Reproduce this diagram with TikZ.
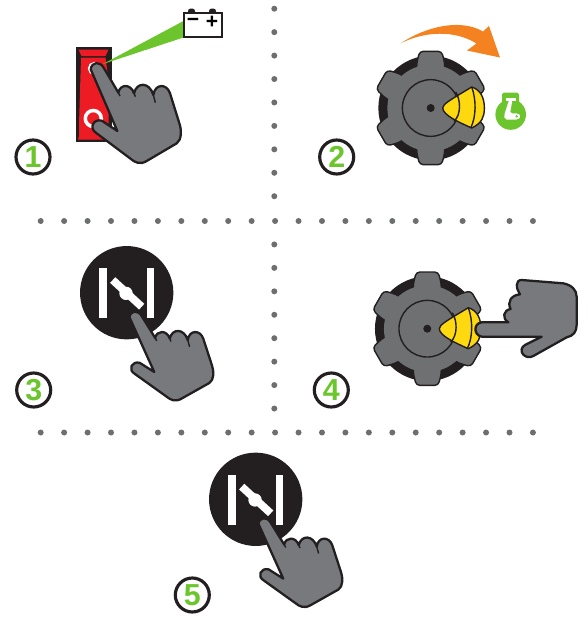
\documentclass[tikz,border=0pt]{standalone}
\usepackage{fontspec}
\setmainfont{Liberation Sans}
\definecolor{inkdark}{HTML}{231F20}
\definecolor{handgray}{HTML}{77797C}
\definecolor{knobgray}{HTML}{6F7072}
\definecolor{dotgray}{HTML}{6D6E70}
\definecolor{knobyellow}{HTML}{FFD90F}
\definecolor{arrorange}{HTML}{F58220}
\definecolor{stepgreen}{HTML}{6CC52D}
\definecolor{swred}{HTML}{ED1C24}
\begin{document}
\begin{tikzpicture}[
    x=0.02cm, y=-0.02cm,
    griddot/.style={fill=dotgray, draw=none},
    stepring/.style={circle, draw=inkdark, line width=1.8pt, fill=white, minimum size=0.68cm, inner sep=0pt, font=\bfseries\LARGE, text=stepgreen},
    handline/.style={draw=inkdark, fill=handgray, line width=1.3pt, line join=round},
    thinline/.style={draw=inkdark, line width=0.8pt},
    pics/handicon/.style={code={
        % hand outline, origin at the finger tip
        \begin{scope}[shift={(-290,-195)}]
        \draw[handline] (272,208) .. controls (275,185) and (300,182) .. (312,205) -- (355,278)
            .. controls (360,252) and (392,250) .. (402,280)
            .. controls (410,245) and (448,245) .. (460,285)
            .. controls (465,250) and (500,250) .. (510,280)
            -- (538,370) .. controls (545,390) and (545,420) .. (530,430)
            -- (440,483) .. controls (420,495) and (405,488) .. (390,475)
            -- (290,400) .. controls (265,385) and (280,355) .. (305,362)
            -- (352,393) -- cycle;
        \draw[thinline] (355,278) -- (360,288);
        \draw[thinline] (402,280) -- (406,290);
        \draw[thinline] (460,285) -- (466,308);
        \end{scope}
    }},
    pics/knobicon/.style={code={
        % dark ring, six lobes, then the yellow wedge
        \fill[inkdark] (0,0) circle [radius=157];
        \foreach \ang in {30,90,150,210,270,330} {
            \draw[thinline, fill=knobgray, rounded corners=2pt, rotate=\ang]
                (90,-42) -- (135,-42) -- (170,-33) -- (170,33) -- (135,42) -- (90,42) -- cycle;
        }
        \fill[knobgray] (0,0) circle [radius=130];
        \draw[thinline] (0,0) circle [radius=85];
        \fill[inkdark] (0,0) circle [radius=12];
        \draw[thinline, fill=knobyellow, line join=round] (36,0) .. controls (36,-12) and (60,-25) .. (123,-63)
            .. controls (150,-55) and (161,-30) .. (161,0) .. controls (161,25) and (155,45) .. (123,60)
            .. controls (90,45) and (36,22) .. (36,0) -- cycle;
        \draw[thinline] (75,-48) .. controls (90,-25) and (92,20) .. (70,40);
        \draw[thinline] (123,-63) .. controls (137,-25) and (137,25) .. (120,60);
    }},
    pics/buttonicon/.style={code={
        % black button with the valve sign
        \fill[inkdark] (0,0) circle [radius=140];
        \fill[white] (-82,-73) rectangle (-58,77);
        \fill[white] (60,-73) rectangle (83,77);
        \draw[white, line width=4.4pt] (-42,-38) -- (45,42);
        \fill[white] (-2,2) circle [radius=20];
        \pic[xscale=0.31, yscale=0.296] at (25,62) {handicon};
    }},
]
\useasboundingbox (0,0) rectangle (588,637);

% dotted dividers
\foreach \k in {0,...,8} \fill[griddot] (274.3,8.7+23.44*\k) circle (3);
\foreach \k in {1,...,8} \fill[griddot] (274.3,221+23.44*\k) circle (3);
\foreach \k in {0,...,21} {
    \fill[griddot] (40.7+23.44*\k,221) circle (3);
    \fill[griddot] (40.7+23.44*\k,432.5) circle (3);
}

% step 1: rocker switch and battery
\fill[inkdark] (75.5,46.7) rectangle (111.7,141.7);
\fill[swred] (78.5,49.5) -- (108.5,49.5) -- (105.5,56) -- (81.5,56) -- cycle;
\fill[swred] (81,57.5) -- (105.5,57.5) -- (108.5,80) -- (108.5,136) -- (79,136) -- (79,125) -- cycle;
\fill[swred] (79,136) -- (108.5,136) -- (108.5,139.5) -- (78,139.5) -- cycle;
\draw[white, line width=2pt] (93.3,118.5) circle (8);
\draw[white, line width=1.8pt] (94.5,68.5) circle (5);
\fill[stepgreen] (184,20.7) -- (184,37.3) -- (103,64) -- cycle;
\fill[inkdark, rounded corners=1.5pt] (188,8.5) rectangle (195,15);
\fill[inkdark, rounded corners=1.5pt] (209,8.5) rectangle (216,15);
\draw[inkdark, line width=1.3pt, fill=white] (184,12.7) rectangle (221.7,36.7);
\node[font=\bfseries\large, inner sep=0pt] (bminus) at (193,22) {\textminus};
\node[font=\bfseries\large, inner sep=0pt] (bplus) at (212,22) {+};
\pic[scale=1/3] at (96.7,65) {handicon};
\node[stepring] (stepone) at (33,157) {1};

% step 2: knob turned, orange arrow, green icon
\pic[scale=1/3] at (430.7,108) {knobicon};
\fill[arrorange] (400.7,43.3) .. controls (425,27) and (460,18) .. (483,31.5)
    -- (489,26) -- (500,57.5) -- (467,50.5) -- (476.5,43.5)
    .. controls (455,30) and (425,31) .. cycle;
\fill[stepgreen] (510.7,114.5) circle (15.3);
\fill[stepgreen, rounded corners=1pt] (502,92.5) rectangle (519,106);
\fill[white] (505.5,97.5) rectangle (516,101);
\fill[white, rounded corners=1pt] (509,100) -- (512.5,100) -- (510,113.3) -- (518.3,113.3) -- (521,116.5) -- (518.3,119.5) -- (505,119.5) -- (504,115.7) -- cycle;
\fill[stepgreen] (516.7,116.3) circle (1.3);
\node[stepring] (steptwo) at (336.7,157) {2};

% step 3
\pic[scale=1/3] at (126.7,292.7) {buttonicon};
\node[stepring] (stepthree) at (33.7,390) {3};

% step 4: finger on the knob
\pic[scale=1/3] at (427.3,328.7) {knobicon};
\begin{scope}[shift={(300,230)}, scale=1/3]
\draw[handline] (545,320) .. controls (520,315) and (520,280) .. (545,277) -- (625,277)
    .. controls (605,265) and (610,240) .. (632,237)
    .. controls (620,215) and (635,195) .. (660,193)
    .. controls (648,175) and (645,150) .. (665,150)
    -- (790,160) .. controls (815,165) and (830,180) .. (830,200)
    -- (830,285) .. controls (830,305) and (820,318) .. (800,322)
    -- (700,378) .. controls (675,392) and (650,360) .. (675,345)
    -- (725,320) -- cycle;
\end{scope}
\node[stepring] (stepfour) at (331.3,390) {4};

% step 5
\pic[scale=1/3] at (255.7,499.3) {buttonicon};
\node[stepring] (stepfive) at (192.3,595) {5};
\end{tikzpicture}
\end{document}
